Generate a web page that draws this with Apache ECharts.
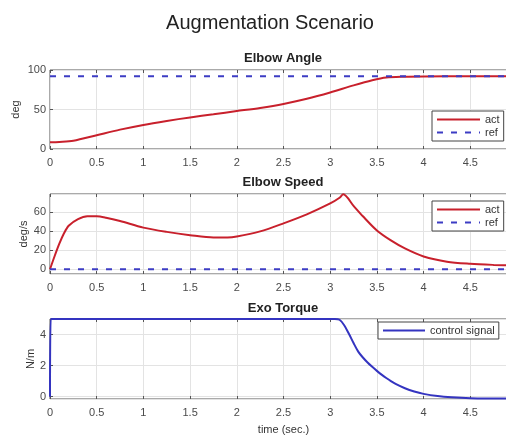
<!DOCTYPE html>
<html>
<head>
<meta charset="utf-8">
<script src="https://cdn.jsdelivr.net/npm/echarts@6/dist/echarts.min.js"></script>
<style>
  html, body { margin: 0; padding: 0; background: #ffffff; }
  #chart { width: 506px; height: 435px; }
</style>
</head>
<body>
<div id="chart"></div>
<script>
// Elbow angle (deg) over time (s)
const angleTime = [0, 0.1, 0.25, 0.5, 0.75, 1.0, 1.25, 1.5, 1.75, 2.0, 2.25, 2.5, 2.75, 3.0, 3.25, 3.45, 3.6, 3.8, 4.0, 4.5, 5.0];
const angleAct  = [8.5, 9, 10.5, 17.5, 24.5, 30.5, 35.5, 40, 44, 48, 52, 57, 63.5, 71.5, 80.5, 87, 90.5, 91.5, 91.8, 92, 92];
const angleRefTime = [0, 5];
const angleRef     = [92, 92];

// Elbow speed (deg/s) over time (s)
const speedTime = [0, 0.05, 0.1, 0.15, 0.2, 0.3, 0.4, 0.5, 0.6, 0.75, 1.0, 1.25, 1.5, 1.75, 1.9, 2.0, 2.25, 2.5, 2.75, 3.0, 3.1, 3.14, 3.25, 3.35, 3.5, 3.65, 3.8, 4.0, 4.25, 4.5, 4.75, 5.0];
const speedAct  = [0, 14, 27, 38, 46, 53, 56, 56, 54.5, 51, 44, 39.5, 36, 33.5, 33.5, 34.5, 40, 48.5, 58, 69.5, 75.5, 79.2, 67, 56, 41, 30.5, 22, 13.5, 8, 5.8, 4.6, 3.8];
const speedRefTime = [0, 5];
const speedRef     = [0, 0];

// Exoskeleton torque (N/m) over time (s)
const torqueTime   = [0, 0.008, 3.05, 3.1, 3.15, 3.2, 3.25, 3.3, 3.35, 3.4, 3.45, 3.5, 3.55, 3.6, 3.65, 3.7, 3.8, 3.9, 4.0, 4.15, 4.3, 4.5, 4.75, 5.0];
const torqueSignal = [0, 5, 5, 4.95, 4.6, 4.05, 3.45, 2.9, 2.52, 2.2, 1.92, 1.66, 1.42, 1.2, 1.0, 0.82, 0.54, 0.33, 0.18, 0.04, -0.04, -0.1, -0.12, -0.13];

const FONT = '"Liberation Sans", Arial, Helvetica, sans-serif';
const AXIS_COLOR = '#555555';
const GRID_COLOR = '#e3e3e3';
const LABEL_COLOR = '#4a4a4a';
const RED = '#c8202c';
const BLUE_DASH = '#3c3cc4';
const BLUE = '#3434c0';

const pairs = (xs, ys) => xs.map((x, i) => [x, ys[i]]);

const panels = [
  { top: 70,  height: 79 },
  { top: 194, height: 80 },
  { top: 319, height: 80 }
];

// the plot area runs past the right edge of the canvas (x = 5 is clipped)
const grid = panels.map(p => ({
  left: 50, top: p.top, width: 467, height: p.height,
  show: true, borderColor: AXIS_COLOR, borderWidth: 1, backgroundColor: '#ffffff',
  containLabel: false, outerBoundsMode: 'none'
}));

const bottomX = (i, extra) => Object.assign({
  type: 'value', gridIndex: i, min: 0, max: 5, interval: 0.5,
  axisLine: { show: false, onZero: false },
  axisTick: { inside: true, length: 3, lineStyle: { color: AXIS_COLOR } },
  axisLabel: { margin: 8, fontSize: 11, color: LABEL_COLOR, fontFamily: FONT },
  splitLine: { show: true, lineStyle: { color: GRID_COLOR, width: 1 } }
}, extra || {});

const topX = i => ({
  type: 'value', gridIndex: i, position: 'top', min: 0, max: 5, interval: 0.5,
  axisLine: { show: false, onZero: false },
  axisTick: { inside: true, length: 3, lineStyle: { color: AXIS_COLOR } },
  axisLabel: { show: false },
  splitLine: { show: false }
});

const leftY = (i, extra) => Object.assign({
  type: 'value', gridIndex: i,
  nameLocation: 'middle', nameMoveOverlap: false,
  nameTextStyle: { fontSize: 11, color: '#333333', fontFamily: FONT },
  axisLine: { show: false, onZero: false },
  axisTick: { inside: true, length: 3, lineStyle: { color: AXIS_COLOR } },
  axisLabel: { margin: 4, fontSize: 11, color: LABEL_COLOR, fontFamily: FONT, showMinLabel: false, showMaxLabel: false },
  splitLine: { show: true, lineStyle: { color: GRID_COLOR, width: 1 } }
}, extra);

const legendBase = {
  orient: 'vertical', selectedMode: false,
  itemWidth: 43, itemHeight: 12, itemGap: 2,
  padding: [3, 4, 3, 4],
  borderColor: '#444444', borderWidth: 1, backgroundColor: '#ffffff',
  itemStyle: { opacity: 0, borderWidth: 0 },
  textStyle: { fontSize: 11, color: '#333333', fontFamily: FONT }
};

const titleText = (text, x, y, size, weight) => ({
  type: 'text', x: x, y: y, z: 100,
  style: {
    text: text, fill: '#222222', font: weight + ' ' + size + 'px ' + FONT,
    align: 'center', verticalAlign: 'top', textAlign: 'center', textVerticalAlign: 'top'
  }
});

const option = {
  animation: false,
  backgroundColor: '#ffffff',
  grid: grid,
  xAxis: [
    bottomX(0), bottomX(1),
    bottomX(2, { name: 'time (sec.)', nameLocation: 'middle', nameGap: 25, nameMoveOverlap: false,
                 nameTextStyle: { fontSize: 11, color: '#333333', fontFamily: FONT } }),
    topX(0), topX(1), topX(2)
  ],
  yAxis: [
    leftY(0, { min: 0, max: 100, interval: 50, name: 'deg', nameGap: 29,
               axisLabel: { margin: 4, fontSize: 11, color: LABEL_COLOR, fontFamily: FONT } }),
    leftY(1, { min: -5, max: 79.5, splitNumber: 4, name: 'deg/s', nameGap: 21 }),
    leftY(2, { min: -0.15, max: 5, splitNumber: 3, name: 'N/m', nameGap: 14 })
  ],
  legend: [
    Object.assign({}, legendBase, { data: ['act', 'ref'], left: 432, top: 111 }),
    Object.assign({}, legendBase, { data: ['act', 'ref'], left: 432, top: 201 }),
    Object.assign({}, legendBase, { data: ['control signal'], left: 378, top: 322, itemWidth: 42 })
  ],
  graphic: [
    titleText('Augmentation Scenario', 270, 13, 20, 'normal'),
    titleText('Elbow Angle', 283, 52, 13, 'bold'),
    titleText('Elbow Speed', 283, 176, 13, 'bold'),
    titleText('Exo Torque', 283, 302, 13, 'bold')
  ],
  series: [
    { name: 'act', type: 'line', xAxisIndex: 0, yAxisIndex: 0, symbol: 'none', smooth: 0.3,
      lineStyle: { color: RED, width: 2 }, itemStyle: { color: RED }, data: pairs(angleTime, angleAct) },
    { name: 'ref', type: 'line', xAxisIndex: 0, yAxisIndex: 0, symbol: 'none',
      lineStyle: { color: BLUE_DASH, width: 2, type: [6, 8] }, itemStyle: { color: BLUE_DASH }, data: pairs(angleRefTime, angleRef) },
    { name: 'act', type: 'line', xAxisIndex: 1, yAxisIndex: 1, symbol: 'none', smooth: 0.3,
      lineStyle: { color: RED, width: 2 }, itemStyle: { color: RED }, data: pairs(speedTime, speedAct) },
    { name: 'ref', type: 'line', xAxisIndex: 1, yAxisIndex: 1, symbol: 'none',
      lineStyle: { color: BLUE_DASH, width: 2, type: [6, 8] }, itemStyle: { color: BLUE_DASH }, data: pairs(speedRefTime, speedRef) },
    { name: 'control signal', type: 'line', xAxisIndex: 2, yAxisIndex: 2, symbol: 'none', smooth: 0.3,
      lineStyle: { color: BLUE, width: 2 }, itemStyle: { color: BLUE }, data: pairs(torqueTime, torqueSignal) }
  ]
};

const chart = echarts.init(document.getElementById('chart'), null, { renderer: 'canvas' });
chart.setOption(option);
</script>
</body>
</html>
